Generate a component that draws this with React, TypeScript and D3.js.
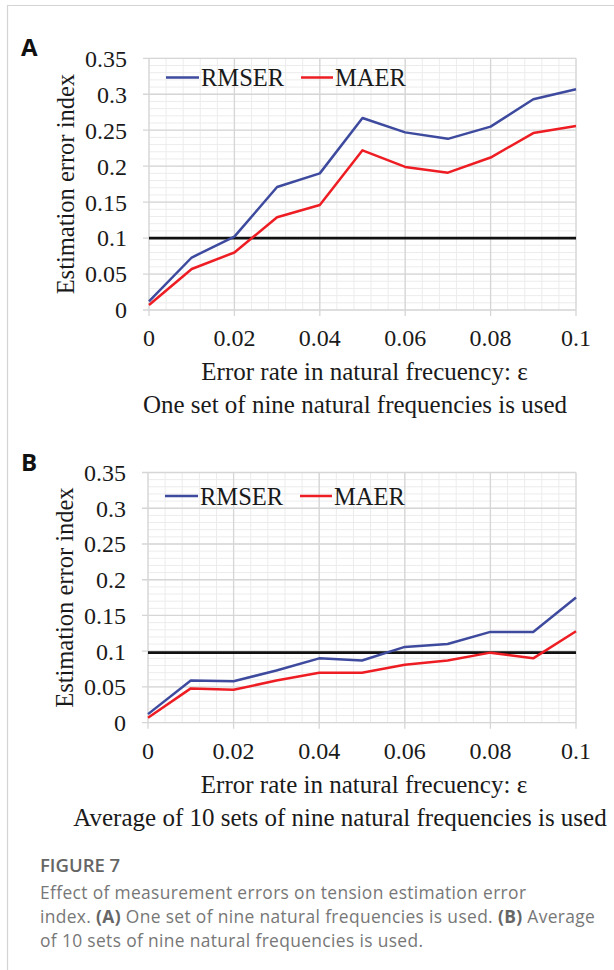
import React from "react";
import * as d3 from "d3";

const xValues = [0, 0.01, 0.02, 0.03, 0.04, 0.05, 0.06, 0.07, 0.08, 0.09, 0.1];
const rmserA = [0.012, 0.073, 0.102, 0.171, 0.19, 0.267, 0.247, 0.238, 0.255, 0.293, 0.307];
const maerA = [0.007, 0.057, 0.08, 0.129, 0.146, 0.222, 0.199, 0.191, 0.212, 0.246, 0.256];
const rmserB = [0.012, 0.059, 0.058, 0.073, 0.09, 0.087, 0.106, 0.11, 0.127, 0.127, 0.175];
const maerB = [0.007, 0.048, 0.046, 0.059, 0.07, 0.07, 0.081, 0.087, 0.098, 0.09, 0.128];
const thresholdA = 0.1;
const thresholdB = 0.098;
const xTicks = [0, 0.02, 0.04, 0.06, 0.08, 0.1];
const xTickLabels = ["0", "0.02", "0.04", "0.06", "0.08", "0.1"];
const yTicks = [0, 0.05, 0.1, 0.15, 0.2, 0.25, 0.3, 0.35];
const yTickLabels = ["0", "0.05", "0.1", "0.15", "0.2", "0.25", "0.3", "0.35"];
const seriesNames = ["RMSER", "MAER"];
const subtitles = [
  "One set of nine natural frequencies is used",
  "Average of 10 sets of nine natural frequencies is used",
];

const BLUE = "#3d4a9e";
const RED = "#ee1d23";
const SERIF = "'Liberation Serif', 'Times New Roman', serif";

type PanelProps = {
  label: string;
  rmser: number[];
  maer: number[];
  threshold: number;
  subtitle: string;
  subtitleX: number;
  x0: number;
  x1: number;
  yTop: number;
  yBottom: number;
  legendY: number;
};

function Panel(p: PanelProps) {
  const x = d3.scaleLinear().domain([0, 0.1]).range([p.x0, p.x1]);
  const y = d3.scaleLinear().domain([0, 0.35]).range([p.yBottom, p.yTop]);
  const line = d3
    .line<number>()
    .x((_, i) => x(xValues[i]))
    .y((d) => y(d));
  const minorX = d3.range(0, 0.1 + 1e-9, 0.004);
  const minorY = d3.range(0, 0.35 + 1e-9, 0.01);
  const cx = (p.x0 + p.x1) / 2;
  return (
    <g>
      {minorX.map((v, i) => (
        <line key={"mx" + i} x1={x(v)} x2={x(v)} y1={p.yTop} y2={p.yBottom} stroke="#ececec" strokeWidth={1} />
      ))}
      {minorY.map((v, i) => (
        <line key={"my" + i} x1={p.x0} x2={p.x1} y1={y(v)} y2={y(v)} stroke="#ececec" strokeWidth={1} />
      ))}
      {xTicks.map((v, i) => (
        <line key={"gx" + i} x1={x(v)} x2={x(v)} y1={p.yTop} y2={p.yBottom + 6} stroke="#d6d6d6" strokeWidth={1.3} />
      ))}
      {yTicks.map((v, i) => (
        <line key={"gy" + i} x1={p.x0 - 6} x2={p.x1} y1={y(v)} y2={y(v)} stroke="#d6d6d6" strokeWidth={1.3} />
      ))}
      {yTicks.map((v, i) => (
        <text key={"ty" + i} x={p.x0 - 22} y={y(v)} dy="0.35em" textAnchor="end" fontFamily={SERIF} fontSize={24} fill="#1a1a1a">
          {yTickLabels[i]}
        </text>
      ))}
      {xTicks.map((v, i) => (
        <text key={"tx" + i} x={x(v)} y={p.yBottom + 36} textAnchor="middle" fontFamily={SERIF} fontSize={24} fill="#1a1a1a">
          {xTickLabels[i]}
        </text>
      ))}
      <line x1={x(0)} x2={x(0.1)} y1={y(p.threshold)} y2={y(p.threshold)} stroke="#111" strokeWidth={2.6} />
      <path d={line(p.rmser) || ""} fill="none" stroke={BLUE} strokeWidth={2.5} strokeLinejoin="round" />
      <path d={line(p.maer) || ""} fill="none" stroke={RED} strokeWidth={2.5} strokeLinejoin="round" />
      {/* legend */}
      <line x1={p.x0 + 17} x2={p.x0 + 50} y1={p.legendY} y2={p.legendY} stroke={BLUE} strokeWidth={2.5} />
      <text x={p.x0 + 52} y={p.legendY} dy="0.35em" fontFamily={SERIF} fontSize={24.5} fill="#1a1a1a">
        {seriesNames[0]}
      </text>
      <line x1={p.x0 + 152} x2={p.x0 + 184} y1={p.legendY} y2={p.legendY} stroke={RED} strokeWidth={2.5} />
      <text x={p.x0 + 186} y={p.legendY} dy="0.35em" fontFamily={SERIF} fontSize={24.5} fill="#1a1a1a">
        {seriesNames[1]}
      </text>
      <text
        transform={`translate(${p.x0 - 84},${(p.yTop + p.yBottom) / 2}) rotate(-90)`}
        textAnchor="middle"
        dy="0.35em"
        fontFamily={SERIF}
        fontSize={24.5}
        fill="#1a1a1a"
      >
        Estimation error index
      </text>
      <text x={cx + 2} y={p.yBottom + 70} textAnchor="middle" fontFamily={SERIF} fontSize={25} fill="#1a1a1a">
        Error rate in natural frecuency: ε
      </text>
      <text x={p.subtitleX} y={p.yBottom + 103} textAnchor="middle" fontFamily={SERIF} fontSize={25} fill="#1a1a1a">
        {p.subtitle}
      </text>
      <text x={21} y={p.yTop - 2} fontFamily="'Open Sans', 'Noto Sans', sans-serif" fontWeight={700} fontSize={24} fill="#111">
        {p.label}
      </text>
    </g>
  );
}

export default function App() {
  return (
    <svg
      width={614}
      height={970}
      style={{ position: "absolute", left: 0, top: 0, background: "#fff" }}
    >
      <rect x={0} y={0} width={614} height={970} fill="#fff" />
      <line x1={7} x2={614} y1={5.5} y2={5.5} stroke="#d4d4d4" strokeWidth={1.2} />
      <line x1={7.5} x2={7.5} y1={5} y2={970} stroke="#d4d4d4" strokeWidth={1.2} />
      <Panel
        label="A"
        rmser={rmserA}
        maer={maerA}
        threshold={thresholdA}
        subtitle={subtitles[0]}
        subtitleX={355}
        x0={149}
        x1={576}
        yTop={58.3}
        yBottom={310}
        legendY={77.5}
      />
      <Panel
        label="B"
        rmser={rmserB}
        maer={maerB}
        threshold={thresholdB}
        subtitle={subtitles[1]}
        subtitleX={340}
        x0={148}
        x1={576}
        yTop={472.5}
        yBottom={722.7}
        legendY={496}
      />
      <g fontFamily="'Open Sans', 'Noto Sans', sans-serif">
        <text x={40} y={872} fontSize={18.5} fontWeight={600} fill="#666">
          FIGURE 7
        </text>
        <text x={40} y={899} fontSize={17.4} letterSpacing={0.35} fill="#777">
          Effect of measurement errors on tension estimation error
        </text>
        <text x={40} y={923} fontSize={17.4} letterSpacing={0.35} fill="#777">
          index. <tspan fontWeight={700} fill="#666">(A)</tspan> One set of nine natural frequencies is used.{" "}
          <tspan fontWeight={700} fill="#666">(B)</tspan> Average
        </text>
        <text x={40} y={947} fontSize={17.4} letterSpacing={0.35} fill="#777">
          of 10 sets of nine natural frequencies is used.
        </text>
      </g>
    </svg>
  );
}
